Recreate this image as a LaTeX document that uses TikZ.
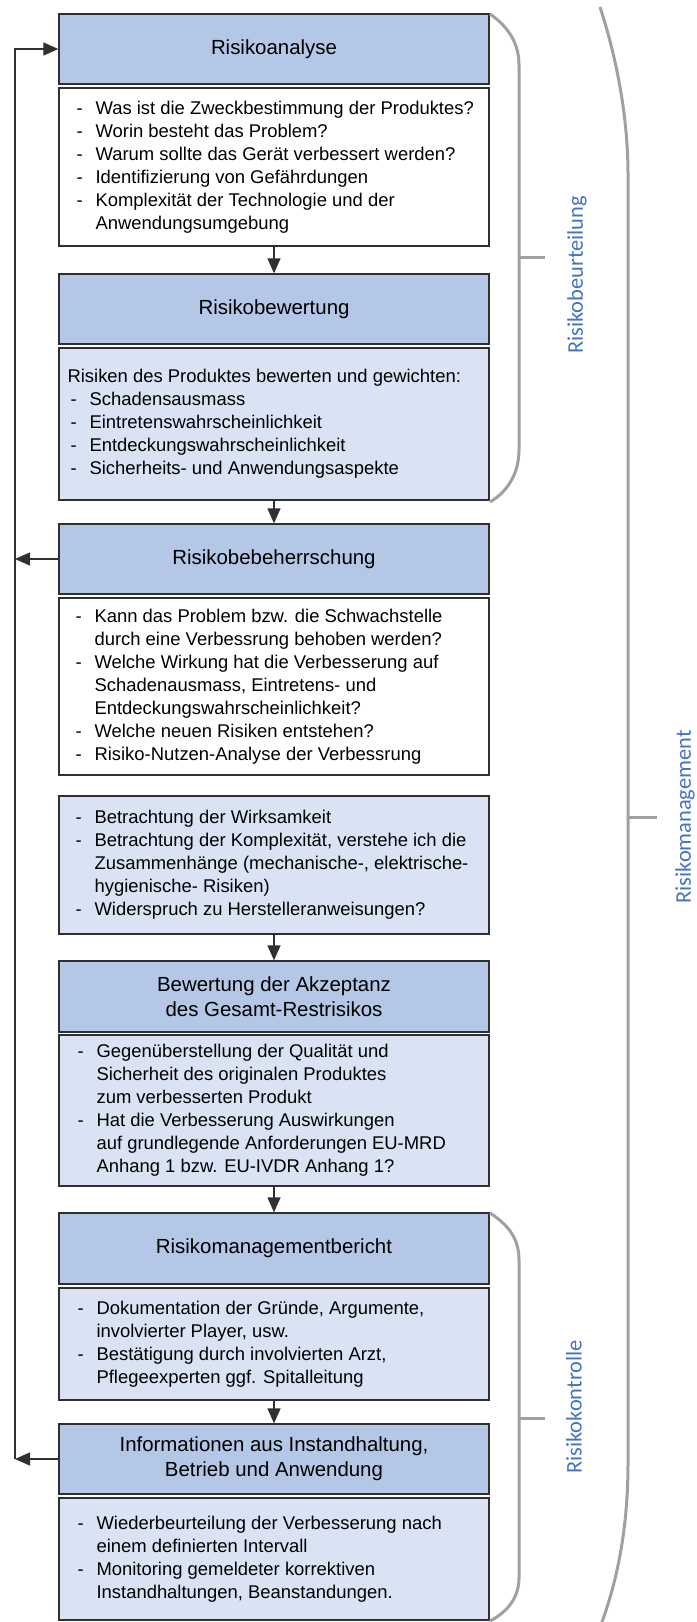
\documentclass[tikz,border=0pt]{standalone}
\usepackage{fontspec}
\setmainfont{Liberation Sans}
\newfontfamily\sidefont{Carlito}
\usetikzlibrary{arrows.meta}

\definecolor{headfill}{HTML}{B4C7E7}
\definecolor{bodyfill}{HTML}{DAE3F3}
\definecolor{framecol}{HTML}{303030}
\definecolor{bracecol}{HTML}{A0A0A0}
\definecolor{labelcol}{HTML}{4472C4}

% list helpers: dash item and continuation indent
\newcommand{\itm}{\makebox[19bp][l]{-}}
\newcommand{\cnt}{\hspace*{19bp}}

\tikzset{
  headbox/.style={draw=framecol, line width=1.3bp, fill=headfill,
    minimum width=430bp, minimum height=#1, inner sep=0pt, align=center,
    font=\fontsize{20.5}{25}\selectfont},
  bodybox/.style={draw=framecol, line width=1.3bp, fill=#1,
    minimum width=430bp, inner sep=0pt},
  bodytext/.style={anchor=west, inner sep=0pt, align=left,
    font=\fontsize{18.5}{23}\selectfont},
  conn/.style={draw=framecol, line width=1.3bp,
    -{Triangle[length=15bp,width=13bp]}},
  bracket/.style={draw=bracecol, line width=3bp},
  sidelabel/.style={rotate=90, text=labelcol,
    font=\sidefont\fontsize{22.5}{26}\selectfont},
}

\begin{document}
\begin{tikzpicture}[x=1bp, y=-1bp]
\useasboundingbox (0,0) rectangle (697,1622);

% ---- Risikoanalyse ----
\node[headbox=70bp] (h1) at (274,49) {Risikoanalyse};
\node[bodybox=white, minimum height=158bp] (t1) at (274,167) {};
\node[bodytext] (x1) at ([xshift=18bp]t1.west) {%
\itm Was ist die Zweckbestimmung der Produktes?\\
\itm Worin besteht das Problem?\\
\itm Warum sollte das Gerät verbessert werden?\\
\itm Identifizierung von Gefährdungen\\
\itm Komplexität der Technologie und der\\
\cnt Anwendungsumgebung};

% ---- Risikobewertung ----
\node[headbox=70bp] (h2) at (274,309) {Risikobewertung};
\node[bodybox=bodyfill, minimum height=152bp] (t2) at (274,424) {};
\node[bodytext] (x2) at ([xshift=9bp]t2.west) {%
Risiken des Produktes bewerten und gewichten:\\
\hspace*{3bp}\itm Schadensausmass\\
\hspace*{3bp}\itm Eintretenswahrscheinlichkeit\\
\hspace*{3bp}\itm Entdeckungswahrscheinlichkeit\\
\hspace*{3bp}\itm Sicherheits- und Anwendungsaspekte};

% ---- Risikobebeherrschung ----
\node[headbox=70bp] (h3) at (274,559) {Risikobebeherrschung};
\node[bodybox=white, minimum height=177bp] (t3) at (274,686.5) {};
\node[bodytext] (x3) at ([xshift=17bp]t3.west) {%
\itm Kann das Problem bzw. die Schwachstelle\\
\cnt durch eine Verbessrung behoben werden?\\
\itm Welche Wirkung hat die Verbesserung auf\\
\cnt Schadenausmass, Eintretens- und\\
\cnt Entdeckungswahrscheinlichkeit?\\
\itm Welche neuen Risiken entstehen?\\
\itm Risiko-Nutzen-Analyse der Verbessrung};

\node[bodybox=bodyfill, minimum height=138bp] (t4) at (274,865) {};
\node[bodytext] (x4) at ([xshift=17bp]t4.west) {%
\itm Betrachtung der Wirksamkeit\\
\itm Betrachtung der Komplexität, verstehe ich die\\
\cnt Zusammenhänge (mechanische-, elektrische-\\
\cnt hygienische- Risiken)\\
\itm Widerspruch zu Herstelleranweisungen?};

% ---- Akzeptanz des Gesamt-Restrisikos ----
\node[headbox=71bp] (h5) at (274,996.5) {Bewertung der Akzeptanz\\des Gesamt-Restrisikos};
\node[bodybox=bodyfill, minimum height=151bp] (t5) at (274,1110.5) {};
\node[bodytext] (x5) at ([xshift=19bp]t5.west) {%
\itm Gegenüberstellung der Qualität und\\
\cnt Sicherheit des originalen Produktes\\
\cnt zum verbesserten Produkt\\
\itm Hat die Verbesserung Auswirkungen\\
\cnt auf grundlegende Anforderungen EU-MRD\\
\cnt Anhang 1 bzw. EU-IVDR Anhang 1?};

% ---- Risikomanagementbericht ----
\node[headbox=71bp] (h6) at (274,1248.5) {Risikomanagementbericht};
\node[bodybox=bodyfill, minimum height=112bp] (t6) at (274,1344) {};
\node[bodytext] (x6) at ([xshift=19bp]t6.west) {%
\itm Dokumentation der Gründe, Argumente,\\
\cnt involvierter Player, usw.\\
\itm Bestätigung durch involvierten Arzt,\\
\cnt Pflegeexperten ggf. Spitalleitung};

% ---- Informationen aus Instandhaltung ----
\node[headbox=70bp] (h7) at (274,1459) {Informationen aus Instandhaltung,\\Betrieb und Anwendung};
\node[bodybox=bodyfill, minimum height=122bp] (t7) at (274,1559) {};
\node[bodytext] (x7) at ([xshift=19bp]t7.west) {%
\itm Wiederbeurteilung der Verbesserung nach\\
\cnt einem definierten Intervall\\
\itm Monitoring gemeldeter korrektiven\\
\cnt Instandhaltungen, Beanstandungen.};

% ---- flow arrows ----
\draw[conn] (t1.south) -- (h2.north);
\draw[conn] (t2.south) -- (h3.north);
\draw[conn] (t4.south) -- (h5.north);
\draw[conn] (t5.south) -- (h6.north);
\draw[conn] (t6.south) -- (h7.north);

% ---- feedback loop on the left ----
\coordinate (loopx) at (15,0);
\draw[conn] (h3.west) -- (h3.west -| loopx);
\draw[conn] (h7.west) -- (h7.west -| loopx);
\draw[conn] (h7.west -| loopx) -- (h1.west -| loopx) -- (h1.west);

% ---- brackets on the right ----
\draw[bracket] (490,14) .. controls (510,28) and (519,45) .. (519,65)
  -- (519,450) .. controls (519,474) and (507,492) .. (490,502);
\coordinate (b1tick) at (519,257);
\draw[bracket] (b1tick) -- ++(26,0);
\node[sidelabel] (l1) at (577,275) {Risikobeurteilung};

\draw[bracket] (490,1213) .. controls (510,1226) and (519,1240) .. (519,1260)
  -- (519,1578) .. controls (519,1598) and (507,1612) .. (490,1621);
\coordinate (b2tick) at (519,1418);
\draw[bracket] (b2tick) -- ++(26,0);
\node[sidelabel] (l2) at (574,1407) {Risikokontrolle};

\draw[bracket] (600,7) .. controls (614,50) and (628,110) .. (628,175)
  -- (628,1463) .. controls (628,1530) and (617,1580) .. (602,1622);
\coordinate (b3tick) at (628,817);
\draw[bracket] (b3tick) -- ++(29,0);
\node[sidelabel] (l3) at (685,817) {Risikomanagement};
\end{tikzpicture}
\end{document}
